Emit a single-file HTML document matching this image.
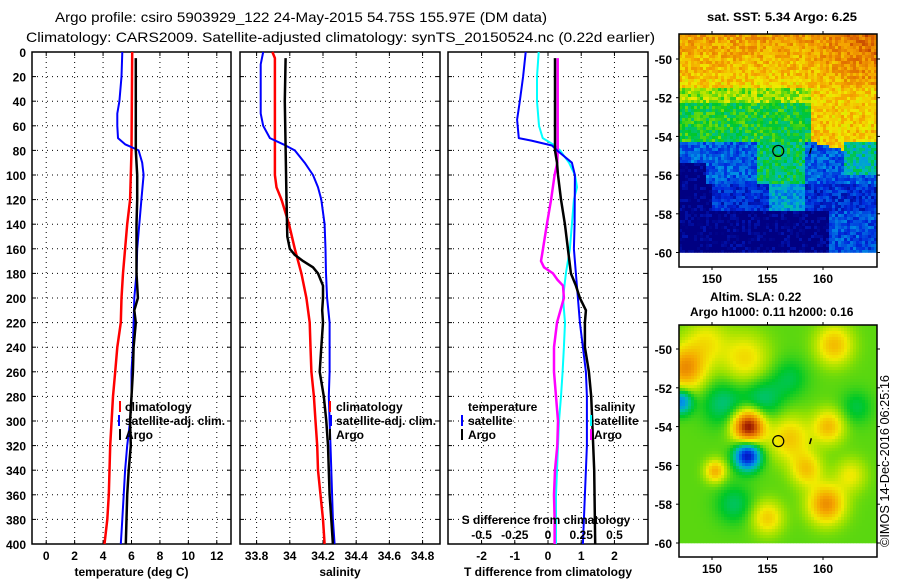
<!DOCTYPE html>
<html><head><meta charset="utf-8"><style>
html,body{margin:0;padding:0;background:#fff;}
svg{display:block;font-family:"Liberation Sans",sans-serif;}
.t{font-size:12px;font-weight:bold;fill:#000;}
.ttl{font-size:14px;fill:#000;}
</style></head><body>
<svg id="fig" width="900" height="580" viewBox="0 0 900 580" xmlns="http://www.w3.org/2000/svg">
<text class="ttl" x="55" y="22" textLength="492" lengthAdjust="spacingAndGlyphs">Argo profile: csiro 5903929_122 24-May-2015 54.75S 155.97E (DM data)</text>
<text class="ttl" x="26" y="42" textLength="629" lengthAdjust="spacingAndGlyphs">Climatology: CARS2009. Satellite-adjusted climatology: synTS_20150524.nc (0.22d earlier)</text>
<text class="t" x="707" y="21" textLength="150" lengthAdjust="spacingAndGlyphs">sat. SST: 5.34 Argo: 6.25</text>
<text class="t" x="710" y="301">Altim. SLA: 0.22</text>
<text class="t" x="690" y="316">Argo h1000: 0.11 h2000: 0.16</text>
<text class="t" transform="translate(889,547) rotate(-90)" textLength="172" lengthAdjust="spacingAndGlyphs" style="font-weight:normal;font-size:13px">©IMOS 14-Dec-2016 06:25:16</text>
<g id="plots"></g>
</svg>
<script>
// ---- data: panel 1 temperature ----
const tClimDepth=[0,80,100,120,140,160,180,200,220,240,260,280,300,320,340,360,380,400];
const tClimVal=[6.05,6.0,5.95,5.9,5.7,5.55,5.4,5.3,5.25,5.0,4.85,4.7,4.6,4.5,4.45,4.4,4.3,4.1];
const tSatDepth=[0,20,40,50,60,70,75,80,90,100,120,140,160,180,200,220,240,260,280,300,320,340,360,380,400];
const tSatVal=[5.35,5.3,5.15,5.0,5.0,5.05,5.55,6.5,6.75,6.85,6.7,6.55,6.4,6.35,6.2,6.15,6.1,6.0,6.0,5.9,5.7,5.55,5.45,5.35,5.25];
const tArgoDepth=[5,80,100,120,140,160,180,200,210,220,240,260,280,300,320,340,360,380,400];
const tArgoVal=[6.3,6.3,6.4,6.4,6.35,6.35,6.35,6.45,6.2,6.3,6.15,6.1,6.0,5.9,5.95,5.8,5.7,5.65,5.6];
// ---- panel 2 salinity ----
const sClimDepth=[0,5,20,100,110,120,140,160,180,200,220,240,260,280,300,320,340,360,380,400];
const sClimVal=[33.895,33.91,33.91,33.91,33.92,33.95,33.995,34.03,34.07,34.1,34.12,34.125,34.13,34.145,34.155,34.165,34.17,34.185,34.2,34.21];
const sSatDepth=[0,10,50,60,70,75,80,90,100,110,120,140,160,180,200,220,260,280,300,320,340,360,380,400];
const sSatVal=[33.84,33.825,33.825,33.84,33.88,33.96,34.03,34.09,34.14,34.17,34.19,34.21,34.215,34.218,34.225,34.24,34.24,34.235,34.24,34.245,34.25,34.255,34.26,34.27];
const sArgoDepth=[5,40,120,150,160,165,170,175,180,190,200,210,220,240,260,280,300,320,340,360,380,400];
const sArgoVal=[33.975,33.97,33.98,33.985,34.0,34.03,34.08,34.14,34.17,34.2,34.2,34.195,34.2,34.19,34.18,34.205,34.22,34.23,34.235,34.24,34.25,34.26];
// ---- panel 3 differences ----
const dTSatDepth=[0,20,40,55,70,72,76,80,90,100,140,160,180,200,220,240,260,280,320,340,360,380,400];
const dTSatVal=[-0.67,-0.75,-0.85,-0.93,-0.88,-0.5,0.12,0.27,0.72,0.81,0.8,0.78,0.84,0.9,0.96,1.05,1.14,1.17,1.17,1.14,1.11,1.08,1.05];
const dTArgoDepth=[5,80,90,100,120,140,160,180,190,200,210,220,240,260,280,300,320,340,400];
const dTArgoVal=[0.21,0.21,0.27,0.3,0.39,0.51,0.6,0.69,0.84,0.96,1.14,1.11,1.11,1.23,1.3,1.33,1.36,1.39,1.42];
const dSSatDepth=[0,20,40,60,70,75,80,90,100,110,120,140,160,180,200,220,240,260,280,300,320,340,360,400];
const dSSatVal=[-0.07,-0.083,-0.083,-0.068,-0.04,0.038,0.09,0.158,0.203,0.218,0.195,0.18,0.165,0.135,0.113,0.128,0.12,0.11,0.098,0.083,0.075,0.068,0.06,0.06];
const dSArgoDepth=[5,80,90,100,120,140,160,170,175,180,185,190,200,220,240,260,280,300,320,340,360,380,400];
const dSArgoVal=[0.073,0.073,0.07,0.05,0.023,-0.008,-0.038,-0.053,-0.03,0.038,0.07,0.113,0.12,0.068,0.045,0.045,0.06,0.075,0.07,0.053,0.045,0.05,0.05];
// ticks
const depthTicks=[0,20,40,60,80,100,120,140,160,180,200,220,240,260,280,300,320,340,360,380,400];
const tTicks=[0,2,4,6,8,10,12];
const sTicks=[33.8,34,34.2,34.4,34.6,34.8];
const dTTicks=[-2,-1,0,1,2];
const dSTickLabels=["-0.5","-0.25","0","0.25","0.5"];
const dSTickVals=[-0.5,-0.25,0,0.25,0.5];
const lonTicks=[150,155,160];
const latTicks=[-50,-52,-54,-56,-58,-60];
const argoLon=155.97, argoLat=-54.75;

const NS="http://www.w3.org/2000/svg";
const G=document.getElementById('plots');
function mk(tag,attrs,parent){const e=document.createElementNS(NS,tag);for(const k in attrs)e.setAttribute(k,attrs[k]);(parent||G).appendChild(e);return e;}
function txt(s,x,y,anchor,parent){const e=mk('text',{x:x,y:y,'text-anchor':anchor||'start','class':'t'},parent);e.textContent=s;return e;}

const Y0=52,Y1=544;
const yD=d=>Y0+(Y1-Y0)*d/400;
function panel(name,x0,x1,vmin,vmax){
  const g=mk('g',{});
  
  
  const xs=v=>x0+(x1-x0)*(v-vmin)/(vmax-vmin);
  return {g,xs,x0,x1};
}
function frame(p,xticks,xlabels,title,ylabels){
  const {g,xs,x0,x1}=p;
  depthTicks.forEach(d=>{
    const y=yD(d);
    if(d>0&&d<400){const l=mk('line',{x1:x0,x2:x1,y1:y,y2:y,stroke:'#000','stroke-width':1,'stroke-dasharray':'1,4'},g);
      }
    mk('line',{x1:x0,x2:x0+4,y1:y,y2:y,stroke:'#000'},g);
    mk('line',{x1:x1-4,x2:x1,y1:y,y2:y,stroke:'#000'},g);
    if(ylabels){const t=txt(String(d),26,y+5,'end',g);}
  });
  xticks.forEach((v,i)=>{
    const x=xs(v);
    const l=mk('line',{x1:x,x2:x,y1:Y0,y2:Y1,stroke:'#000','stroke-width':1,'stroke-dasharray':'1,4'},g);
    
    mk('line',{x1:x,x2:x,y1:Y1-4,y2:Y1,stroke:'#000'},g);
    mk('line',{x1:x,x2:x,y1:Y0,y2:Y0+4,stroke:'#000'},g);
    const t=txt(xlabels[i],x,560,'middle',g);
  });
  const t=txt(title,(x0+x1)/2,576,'middle',g);
  
  const r=mk('rect',{x:x0,y:Y0,width:x1-x0,height:Y1-Y0,fill:'none',stroke:'#000','stroke-width':1.5},g);
  
}
function series(p,depths,vals,color,w,name,scale){
  const pts=depths.map((d,i)=>p.xs(vals[i]*(scale||1)).toFixed(1)+','+yD(d).toFixed(1)).join(' ');
  const l=mk('polyline',{points:pts,fill:'none',stroke:color,'stroke-width':w,'stroke-linejoin':'round'},p.g);
  
  
}
function legendItem(g,mx,tx,y,color,label,name){
  if(color){mk('line',{x1:mx,x2:mx,y1:y-10,y2:y+1,stroke:color,'stroke-width':2},g);}
  const t=txt(label,tx,y,'start',g);
  
  
}

// Panel 1
const p1=panel('temperature-panel',32,231,-1,13);
frame(p1,tTicks,tTicks.map(String),'temperature (deg C)',true);
series(p1,tClimDepth,tClimVal,'#f00',2.5,'temp-climatology-line');
series(p1,tSatDepth,tSatVal,'#00f',2,'temp-satellite-adj-line');
series(p1,tArgoDepth,tArgoVal,'#000',2.5,'temp-argo-line');
legendItem(p1.g,120,125,411,'#f00','climatology','legend-climatology');
legendItem(p1.g,119,125,425,'#00f','satellite-adj. clim.','legend-satellite-adj');
legendItem(p1.g,120,125,439,'#000','Argo','legend-argo');

// Panel 2
const p2=panel('salinity-panel',240,440,33.7,34.905);
frame(p2,sTicks,sTicks.map(String),'salinity',false);
series(p2,sClimDepth,sClimVal,'#f00',2.5,'sal-climatology-line');
series(p2,sSatDepth,sSatVal,'#00f',2,'sal-satellite-adj-line');
series(p2,sArgoDepth,sArgoVal,'#000',2.5,'sal-argo-line');
legendItem(p2.g,330,336,411,'#f00','climatology','legend-climatology');
legendItem(p2.g,331,336,425,'#00f','satellite-adj. clim.','legend-satellite-adj');
legendItem(p2.g,330,336,439,'#000','Argo','legend-argo');

// Panel 3
const p3=panel('difference-panel',448,648,-3.01,3.01);
frame(p3,dTTicks,dTTicks.map(String),'T difference from climatology',false);
series(p3,dSSatDepth,dSSatVal,'#0ff',2,'sal-diff-satellite-line',4);
series(p3,dSArgoDepth,dSArgoVal,'#f0f',2.5,'sal-diff-argo-line',4);
series(p3,dTSatDepth,dTSatVal,'#00f',2,'temp-diff-satellite-line');
series(p3,dTArgoDepth,dTArgoVal,'#000',2.5,'temp-diff-argo-line');
legendItem(p3.g,0,468,411,null,'temperature','legend-temperature-heading');
legendItem(p3.g,462,468,425,'#00f','satellite','legend-temp-satellite');
legendItem(p3.g,462,468,439,'#000','Argo','legend-temp-argo');
legendItem(p3.g,0,594,411,null,'salinity','legend-salinity-heading');
legendItem(p3.g,591,594,425,'#0ff','satellite','legend-sal-satellite');
legendItem(p3.g,591,594,439,'#f0f','Argo','legend-sal-argo');
{const t=txt('S difference from climatology',546,524,'middle',p3.g);}
dSTickVals.forEach((v,i)=>{const t=txt(dSTickLabels[i],p3.xs(v*4),539,'middle',p3.g);});

// ---- maps ----
function jet(v){
  const stops=[[0,0,0,130],[0.13,0,40,220],[0.28,0,150,230],[0.36,0,190,170],[0.46,0,200,40],[0.56,150,225,0],[0.64,240,235,0],[0.76,245,165,0],[0.88,220,100,0],[1,150,20,0]];
  v=Math.max(0,Math.min(1,v));
  for(let i=1;i<stops.length;i++){if(v<=stops[i][0]){const a=stops[i-1],b=stops[i],f=(v-a[0])/(b[0]-a[0]);
    return 'rgb('+[1,2,3].map(k=>Math.round(a[k]+(b[k]-a[k])*f)).join(',')+')';}}
  return 'rgb(150,20,0)';
}
function hash(i,j){let h=(i*374761393+j*668265263)>>>0;h=((h^(h>>>13))*1274126177)>>>0;return ((h^(h>>>16))%1000)/1000;}
function sst(lon,lat,n){
  let v;
  if(lat>-51.5) v=0.72+0.1*(lat+51.5)/2.85+0.1*Math.max(0,lon-158)/7;
  else if(lat>-52.3) v=0.6;
  else if(lat>-54.3) v=0.5;
  else if(lat>-56.5) v=(lon>154&&lon<158.5)?0.46:0.24;
  else if(lat>-57.8) v=(lon>155&&lon<158.5)?0.33:(lon<150?0.03:0.17);
  else v=(lon>160.5)?0.22:0.03;
  if(lat<-55.3&&lon<149.5) v=0.03;
  if(lon>159&&lat<-51.5&&lat>-54.3+(lon-159)*-0.15) v=0.74;
  if(lon>162&&lat<=-54.3&&lat>-56) v=0.4;
  return v+(n-0.5)*0.08;
}
const slaBlobs=[[153.3,-54.0,0.5,0.6],[153.2,-55.5,-0.45,0.5],[147.6,-51.0,0.28,0.8],[160.3,-58.0,0.28,0.7],[147.2,-52.7,-0.28,0.45],
 [151,-52.8,-0.12,0.8],[154.5,-52.6,-0.12,0.8],[157,-54.6,0.18,0.8],[158.5,-56.2,0.18,0.6],[150.3,-56.3,0.22,0.4],[155,-58.7,0.17,0.6],
 [161,-49.8,0.2,0.7],[149.5,-49.6,0.12,0.8],[153,-50.5,0.15,0.9],[160.5,-54,0.2,0.6],[163,-53,-0.08,0.6],[152,-58,-0.1,0.7],[157,-51.5,-0.08,0.7],[162.5,-56.5,0.12,0.6]];
function sla(lon,lat){let v=0.52;slaBlobs.forEach(b=>{const dx=(lon-b[0])*0.62,dy=lat-b[1];v+=b[2]*Math.exp(-(dx*dx+dy*dy)/(2*b[3]*b[3]));});return v;}
function drawMap(name,x0,x1,yTop,yM50,yM60,yBot,fn,cell,noise){
  const g=mk('g',{});
  
  
  const pxDeg=(yM60-yM50)/10;
  const lonOf=x=>150+(x-712)/11.1, latOf=y=>-50-(y-yM50)/pxDeg;
  const xL=x=>712+(x-150)*11.1, yL=l=>yM50+(-50-l)*pxDeg;
  let i=0;
  for(let x=x0;x<x1;x+=cell,i++){let j=0;for(let y=yTop;y<yM60;y+=cell,j++){
    const v=fn(lonOf(x+cell/2),latOf(y+cell/2),noise?hash(i,j):0.5);
    mk('rect',{x:x,y:y,width:Math.min(cell,x1-x)+0.3,height:Math.min(cell,yM60-y)+0.3,fill:jet(v)},g);}}
  const c=mk('circle',{cx:xL(argoLon),cy:yL(argoLat),r:5.5,fill:'none',stroke:'#000','stroke-width':1.2},g);
  
  mk('line',{x1:xL(158.8),y1:yL(-54.9),x2:xL(158.95),y2:yL(-54.6),stroke:'#000','stroke-width':1.5},g);
  const r=mk('rect',{x:x0,y:yTop,width:x1-x0,height:yBot-yTop,fill:'none',stroke:'#000','stroke-width':1.5},g);
  
  latTicks.forEach(l=>{const y=yL(l);mk('line',{x1:x0-3,x2:x0,y1:y,y2:y,stroke:'#000'},g);mk('line',{x1:x1,x2:x1+3,y1:y,y2:y,stroke:'#000'},g);
    const t=txt(String(l),672,y+5,'end',g);});
  lonTicks.forEach(l=>{const x=xL(l);mk('line',{x1:x,x2:x,y1:yBot,y2:yBot+3,stroke:'#000'},g);mk('line',{x1:x,x2:x,y1:yTop-3,y2:yTop,stroke:'#000'},g);
    const t=txt(String(l),x,yBot+16,'middle',g);});
}
drawMap('sst-map',679,877,34,59,252.5,267,sst,3,true);
drawMap('sla-map',679,877,325,349,543,557,(lo,la)=>sla(lo,la),3,false);
</script>
</body></html>
